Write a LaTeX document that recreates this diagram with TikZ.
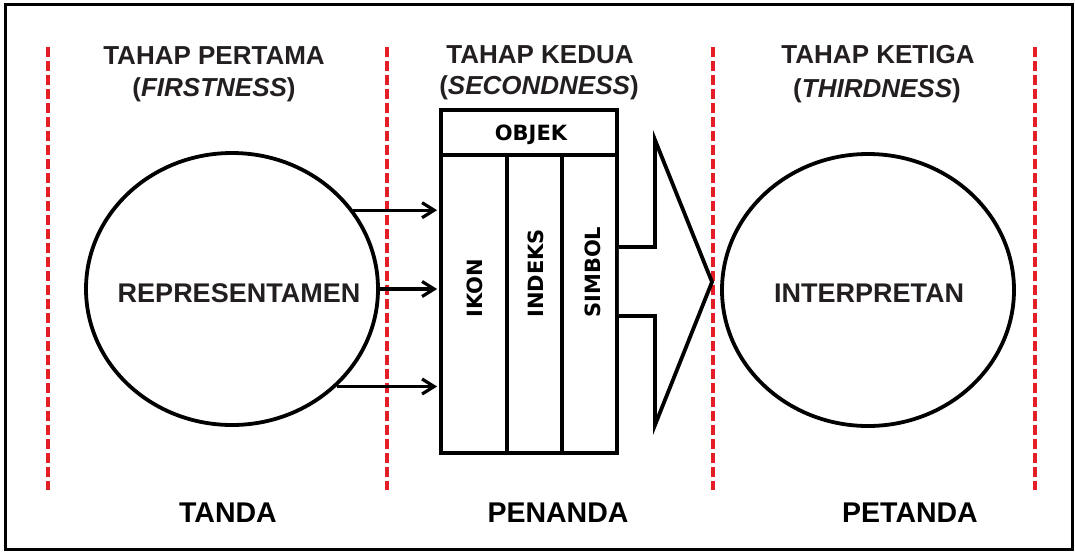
\documentclass[tikz,border=0pt]{standalone}
\usepackage{fontspec}
\setmainfont{Liberation Sans}
\newfontfamily\boxfont{DejaVu Sans}
\usetikzlibrary{shapes.geometric,arrows.meta}
\definecolor{ink}{HTML}{231F20}
\definecolor{divred}{HTML}{E41E26}
\tikzset{
  frame/.style={draw=black, line width=3pt},
  divider/.style={draw=divred, line width=3.2pt, dash pattern=on 9.5pt off 4.5pt},
  stage/.style={ellipse, draw, line width=3.8pt, minimum width=292pt, minimum height=272pt, inner sep=0pt},
  cell/.style={rectangle, draw, line width=3.8pt, inner sep=0pt},
  feed/.style={line width=3.2pt, -{Straight Barb[length=12pt,width=15pt,line width=3.2pt]}, shorten >=2pt},
  bigarrow/.style={draw, line width=3.8pt, line join=miter, fill=white},
  head/.style={font=\fontsize{26}{28}\selectfont\bfseries, text=ink, anchor=base, inner sep=0pt},
  inner/.style={font=\fontsize{27}{29}\selectfont\bfseries, text=ink, anchor=base, inner sep=0pt},
  foot/.style={font=\fontsize{28.5}{30}\selectfont\bfseries, text=black, anchor=base, inner sep=0pt},
  celltext/.style={font=\boxfont\fontsize{21}{22}\selectfont\bfseries, text=black, inner sep=0pt}
}
\begin{document}
\begin{tikzpicture}[x=1pt,y=-1pt]
\useasboundingbox (0,0) rectangle (1075,552);

% outer frame
\draw[frame] (5,4) rectangle (1072,549);

% stage dividers
\foreach \xx in {48,387,713,1035}
  \draw[divider] (\xx,47) -- (\xx,490);

% stage headings
\node[head] (h1a) at (214,64) {TAHAP PERTAMA};
\node[head] (h1b) at (214,96) {(\textit{FIRSTNESS})};
\node[head] (h2a) at (540,63) {TAHAP KEDUA};
\node[head] (h2b) at (539,94) {(\textit{SECONDNESS})};
\node[head] (h3a) at (878,63) {TAHAP KETIGA};
\node[head] (h3b) at (877,97) {(\textit{THIRDNESS})};

% first stage: the sign
\node[stage] (tanda) at (232,289) {};
\node[inner] (rep) at (239,302) {REPRESENTAMEN};

% second stage: the object and its three kinds
\node[cell, minimum width=176pt, minimum height=45pt] (objek) at (529,132.5) {};
\node[celltext, anchor=base] (objlbl) at (531,140) {OBJEK};
\node[cell, minimum width=66pt, minimum height=298pt] (ikon) at (474,304) {};
\node[cell, minimum width=55pt, minimum height=298pt] (indeks) at (534.5,304) {};
\node[cell, minimum width=55pt, minimum height=298pt] (simbol) at (589.5,304) {};
\node[celltext, rotate=90, anchor=base west] (ikonlbl) at (482,318) {IKON};
\node[celltext, rotate=90, anchor=base west] (indekslbl) at (543,318) {INDEKS};
\node[celltext, rotate=90, anchor=base west] (simbollbl) at (600,318) {SIMBOL};

% connectors from the sign to the object
\draw[feed] (tanda.33.6) -- (tanda.33.6 -| ikon.west);
\draw[feed] (tanda.east) -- (tanda.east -| ikon.west);
\draw[feed] (tanda.-43) -- (tanda.-43 -| ikon.west);

% third stage: the interpretant
\node[stage] (interp) at (868,290) {};
\node[inner] (intlbl) at (869,302) {INTERPRETAN};

% block arrow leading to the interpretant
\coordinate (tip) at (712,282);
\draw[bigarrow] (simbol.east |- 0,247) -- (655,247) -- (655,140) -- (tip)
  -- (655,425) -- (655,316) -- (simbol.east |- 0,316);

% bottom labels
\node[foot] (f1) at (228,522) {TANDA};
\node[foot] (f2) at (558,522) {PENANDA};
\node[foot] (f3) at (910,522) {PETANDA};
\end{tikzpicture}
\end{document}
